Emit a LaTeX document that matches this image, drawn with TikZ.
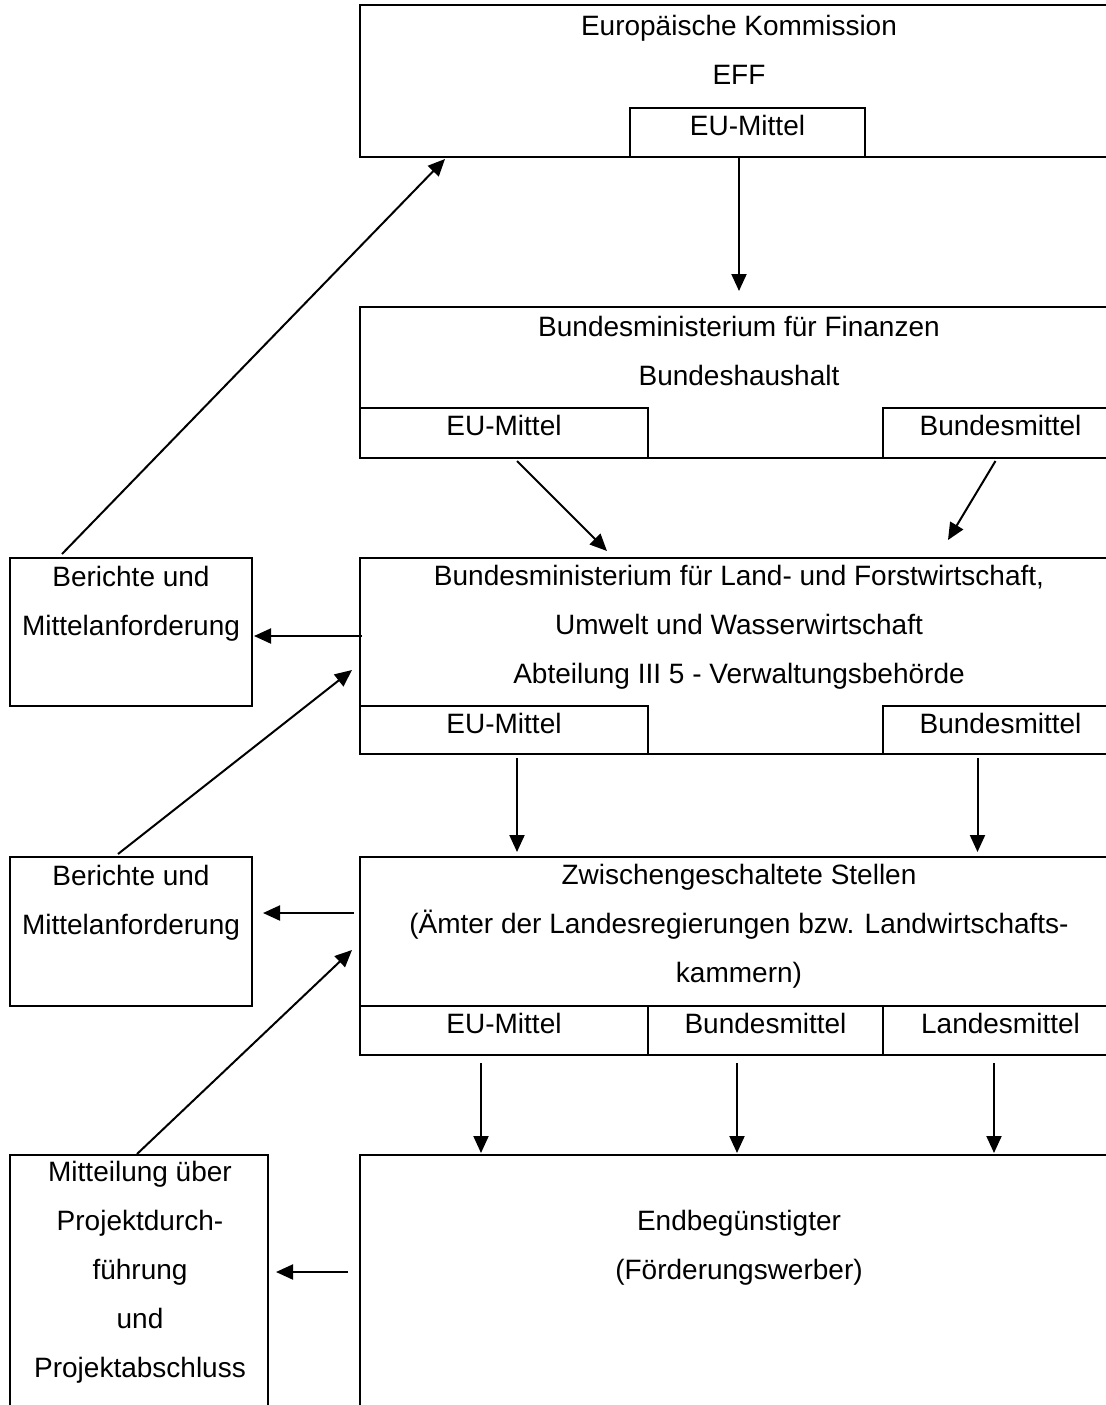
\documentclass[tikz,border=0pt]{standalone}
\usepackage{fontspec}
\setmainfont{Liberation Sans}
\usetikzlibrary{positioning}
\usetikzlibrary{arrows.meta,fit,calc}

\begin{document}
\begin{tikzpicture}[x=0.5pt, y=-0.5pt,
  box/.style={draw, line width=1pt, inner sep=0pt},
  lbl/.style={font=\fontsize{14}{24.5}\selectfont, align=center, inner sep=0pt},
  arr/.style={line width=1pt, -{Triangle[length=8.5pt,width=7.5pt]}}]

 \useasboundingbox (0,0) rectangle (1106,1405);
 \clip (0,0) rectangle (1106,1405);

 \def\xl{360};
 \def\xr{1118};

	%main boxes
 \node[box, fit={(\xl,5) (\xr,157)}] (ek) {};
 \node[box, fit={(\xl,307) (\xr,458)}] (bmf) {};
 \node[box, fit={(\xl,558) (\xr,754)}] (bml) {};
 \node[box, fit={(\xl,857) (\xr,1055)}] (zs) {};
 \node[box, fit={(\xl,1155) (\xr,1450)}] (eb) {};

 \node[lbl] (ekTxt) at (739,50) {Europäische Kommission\\EFF};
 \node[lbl] (bmfTxt) at (739,351) {Bundesministerium für Finanzen\\Bundeshaushalt};
 \node[lbl] (bmlTxt) at (739,627) {Bundesministerium für Land- und Forstwirtschaft,\\Umwelt und Wasserwirtschaft\\Abteilung III 5 - Verwaltungsbehörde};
 \node[lbl] (zsTxt) at (739,926) {Zwischengeschaltete Stellen\\(Ämter der Landesregierungen bzw. Landwirtschafts-\\kammern)};
 \node[lbl] (ebTxt) at (739,1248) {Endbegünstigter\\(Förderungswerber)};

	%fund boxes
    \foreach \xa/\xb/\ya/\yb/\txt/\name in {630/865/108/157/EU-Mittel/ekEU,
        360/648/408/458/EU-Mittel/bmfEU, 883/\xr/408/458/Bundesmittel/bmfBM,
        360/648/706/754/EU-Mittel/bmlEU, 883/\xr/706/754/Bundesmittel/bmlBM,
        360/648/1006/1055/EU-Mittel/zsEU, 648/883/1006/1055/Bundesmittel/zsBM,
        883/\xr/1006/1055/Landesmittel/zsLM}{
         \node[box, fit={(\xa,\ya) (\xb,\yb)}] (\name) {};
         \node[lbl] (\name Txt) at ({(\xa+\xb)/2}, \ya+17) {\txt};
    }

	%boxes on the left
 \node[box, fit={(10,558) (252,706)}] (ber1) {};
 \node[box, fit={(10,857) (252,1006)}] (ber2) {};
 \node[box, fit={(10,1155) (268,1450)}] (mit) {};

 \node[lbl] (ber1Txt) at (131,604) {Berichte und\\Mittelanforderung};
 \node[lbl] (ber2Txt) at (131,903) {Berichte und\\Mittelanforderung};
 \node[lbl] (mitTxt) at (140,1272) {Mitteilung über\\Projektdurch-\\führung\\und\\Projektabschluss};

	%money flows down
 \draw[arr] (ekEU.south -| bmf.north) -- ($(bmf.north)+(0,-15)$);
 \draw[arr] ($(bmfEU.south)+(13,2)$) -- ($(bml.north)+(-132,-6)$);
 \draw[arr] ($(bmfBM.south)+(-5,2)$) -- ($(bml.north)+(209,-17)$);
 \draw[arr] ($(bmlEU.south)+(13,3)$) -- ($(bmlEU.south |- zs.north)+(13,-4)$);
 \draw[arr] ($(bmlBM.south)+(-23,3)$) -- ($(bmlBM.south |- zs.north)+(-23,-4)$);
    \foreach \name/\dx in {zsEU/-23, zsBM/-28.5, zsLM/-6.5}{
         \draw[arr] ($(\name.south)+(\dx,7)$) -- ($(\name.south |- eb.north)+(\dx,-1)$);
    }

	%reports
 \draw[arr] ($(bml.west |- ber1.east)+(3,4)$) -- ($(ber1.east)+(1,4)$);
 \draw[arr] ($(zs.west)+(-5,-43)$) -- ($(ber2.east)+(10,-18.5)$);
 \draw[arr] ($(eb.west)+(-11,-30.5)$) -- ($(mit.east)+(7,-30.5)$);

 \draw[arr] ($(ber1.north)+(-69,-3)$) -- ($(ek.south)+(-294,1)$);
 \draw[arr] ($(ber2.north)+(-13,-2)$) -- ($(bml.west)+(-7,14)$);
 \draw[arr] ($(mit.north)+(-2,0)$) -- ($(zs.west)+(-7,-6)$);

\end{tikzpicture}
\end{document}
